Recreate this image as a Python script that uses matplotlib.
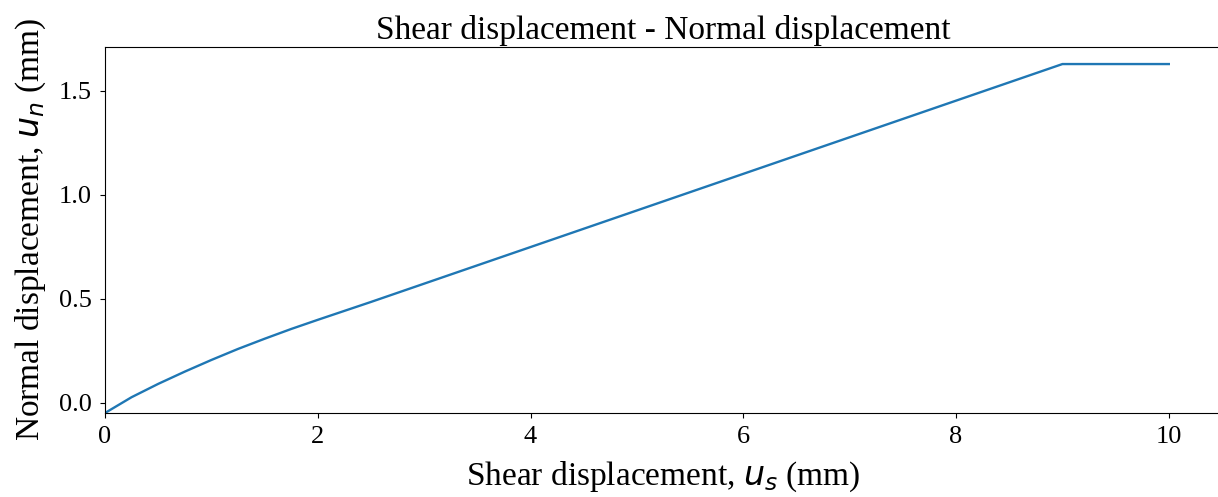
import matplotlib
matplotlib.use('Agg')
import matplotlib.pyplot as plt
import numpy as np

# shear displacement (mm) and normal displacement (mm)
us = [0, 0.25, 0.5, 0.75, 1.0, 1.25, 1.5, 1.75, 2.0, 2.5, 3, 4, 5, 6, 7, 8, 9, 10]
un = [-0.05, 0.026, 0.09, 0.149, 0.205, 0.258, 0.307, 0.354, 0.398, 0.484, 0.572,
      0.748, 0.924, 1.10, 1.276, 1.452, 1.628, 1.628]

plt.rcParams['font.family'] = ['Liberation Serif', 'DejaVu Serif']
plt.rcParams['mathtext.fontset'] = 'dejavusans'

W, H = 1218, 497
fig = plt.figure(figsize=(W/100, H/100), dpi=100)
ax = fig.add_axes([105/W, (H-413)/H, (1222-105)/W, (413-47)/H])
ax.plot(us, un, color='#1f77b4', lw=1.7)
ax.set_xlim(0, 10.5)
ax.set_ylim(-0.05, 1.71)
ax.set_xticks([0, 2, 4, 6, 8, 10])
ax.set_yticks([0.0, 0.5, 1.0, 1.5])
ax.tick_params(labelsize=19, pad=6)
ax.set_xlabel('Shear displacement, $u_s$ (mm)', fontsize=24, labelpad=8)
ax.set_ylabel('Normal displacement, $u_n$ (mm)', fontsize=24, labelpad=8)
ax.set_title('Shear displacement - Normal displacement', fontsize=24)
fig.savefig('out.png', dpi=100)
